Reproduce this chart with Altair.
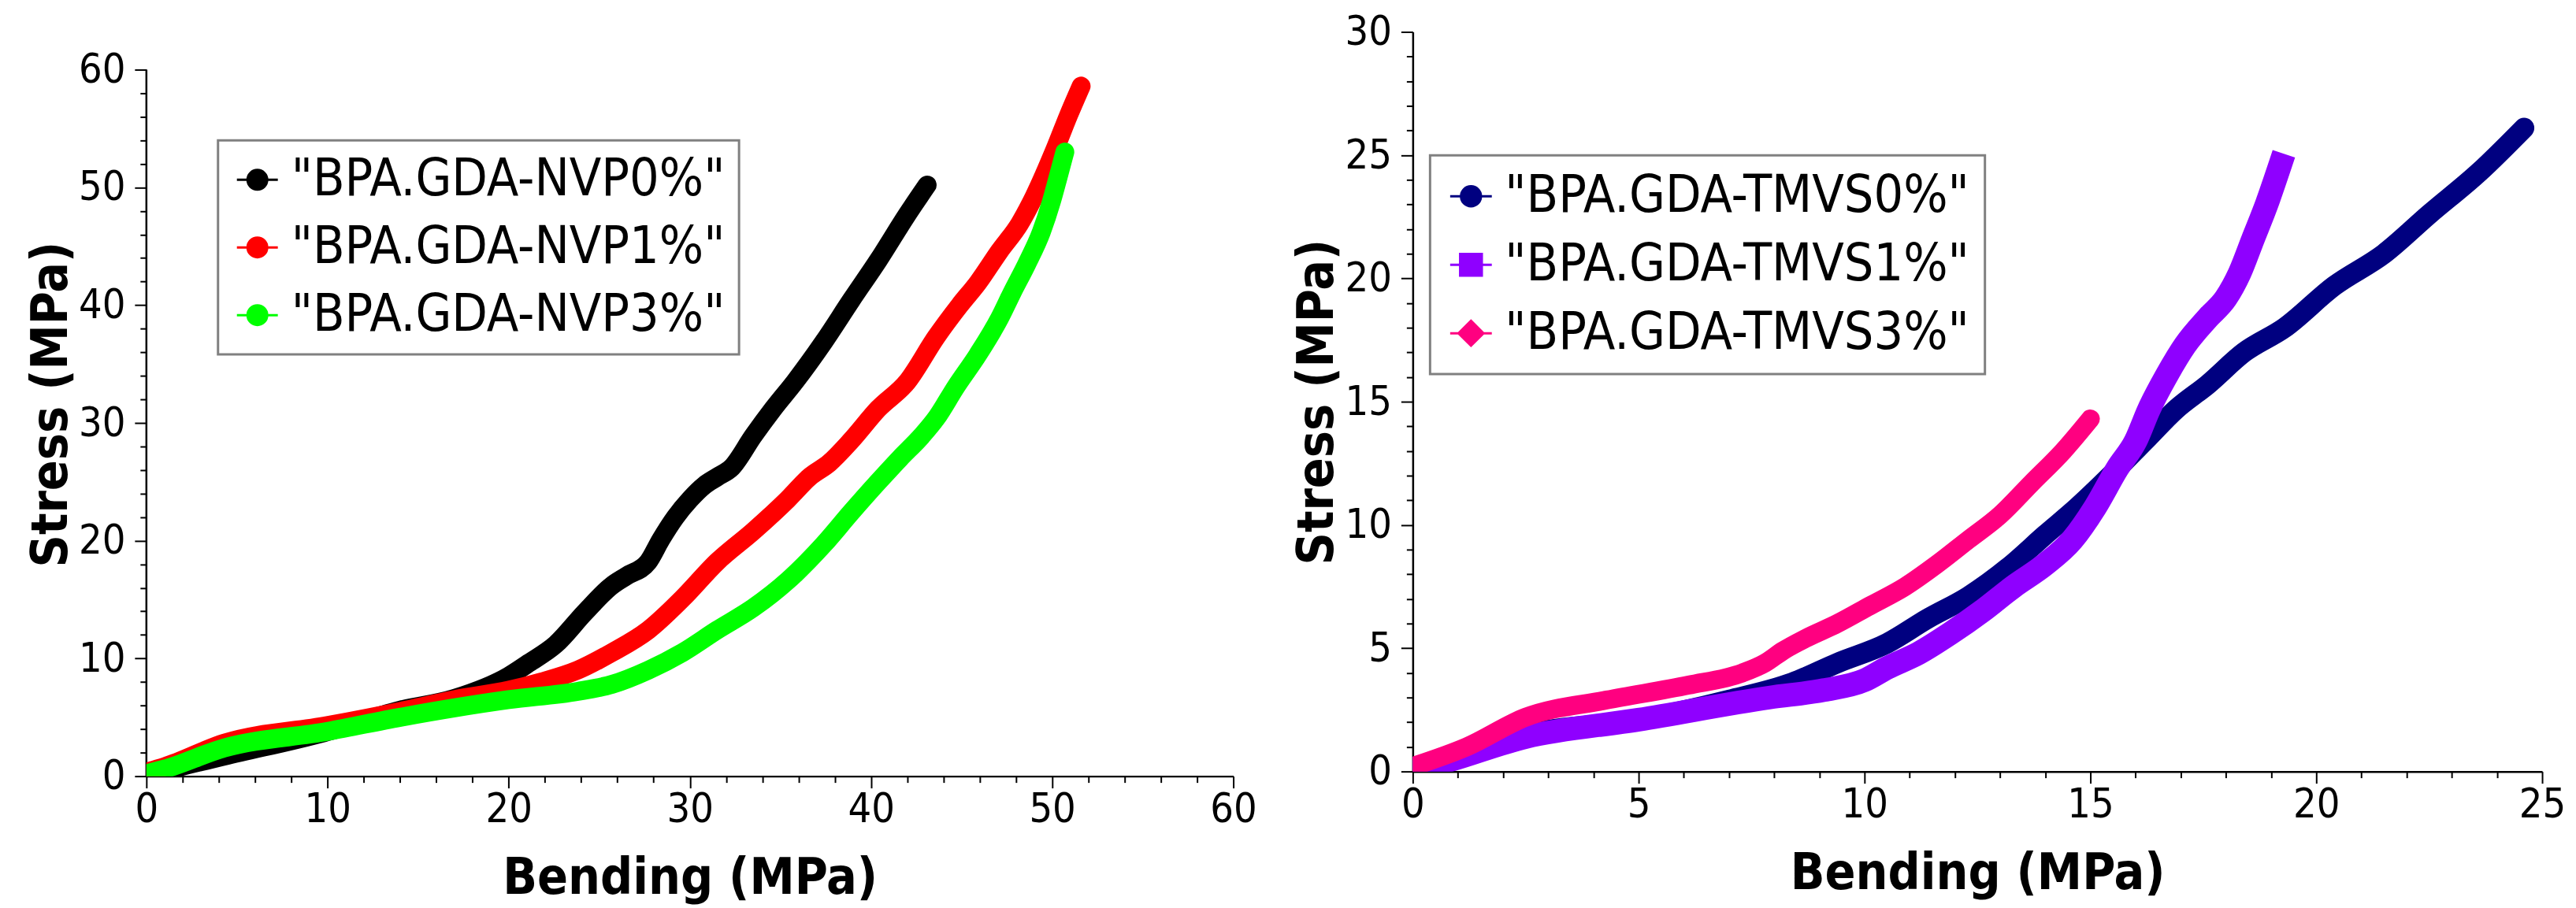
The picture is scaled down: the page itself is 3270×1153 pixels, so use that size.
import altair as alt
import pandas as pd

FONT = "DejaVu Sans Condensed, Liberation Sans Narrow, DejaVu Sans"

# ---------------- left panel data ----------------
nvp_names = ['"BPA.GDA-NVP0%"', '"BPA.GDA-NVP1%"', '"BPA.GDA-NVP3%"']
nvp_colors = ["#000000", "#ff0000", "#00ff00"]

nvp0_x = [0, 1.0, 4.3, 9.8, 14, 17, 20, 21.1, 22.6, 24.2, 25.7, 26.5, 27.7, 28.4, 29.2, 30.0,
          30.8, 31.5, 32.3, 33.5, 34.6, 35.8, 37.4, 38.9, 40.4, 42.0, 43.1]
nvp0_y = [0, 0.45, 1.7, 3.7, 5.6, 6.6, 8.5, 9.6, 11.2, 13.9, 16.2, 17.0, 18.2, 20.1, 22.0, 23.5,
          24.7, 25.4, 26.2, 28.9, 31.2, 33.5, 36.9, 40.4, 43.8, 47.7, 50.2]

nvp1_x = [0, 1.0, 4.3, 10, 14, 17, 20, 21.8, 23.8, 25.7, 27.7, 29.6, 31.5, 33.5, 35.4, 36.6,
          37.7, 38.9, 40.4, 42.0, 43.6, 44.9, 45.9, 47.1, 48.2, 49.0, 50.2, 50.9, 51.6]
nvp1_y = [0.35, 0.8, 2.8, 4.3, 5.5, 6.5, 7.3, 8.0, 9.0, 10.5, 12.4, 15.1, 18.2, 20.8, 23.5, 25.4,
          26.6, 28.5, 31.2, 33.5, 37.3, 40.0, 41.9, 44.6, 46.9, 49.2, 53.4, 56.1, 58.6]

nvp3_x = [0, 1.0, 4.3, 10, 14, 17, 20, 23.8, 25.7, 27.7, 29.6, 31.5, 33.5, 35.4, 37.4, 38.9,
          40.4, 41.6, 42.8, 43.6, 44.7, 45.9, 47.1, 47.8, 48.6, 49.4, 49.96, 50.3, 50.7]
nvp3_y = [0.2, 0.6, 2.4, 3.8, 5.0, 5.8, 6.5, 7.2, 7.8, 9.0, 10.5, 12.4, 14.3, 16.6, 19.7, 22.4,
          25.0, 27.0, 28.9, 30.4, 33.1, 35.8, 38.9, 41.1, 43.5, 46.2, 48.8, 50.7, 53.0]

# ---------------- right panel data ----------------
tmvs_names = ['"BPA.GDA-TMVS0%"', '"BPA.GDA-TMVS1%"', '"BPA.GDA-TMVS3%"']
tmvs_colors = ["#000080", "#8f00ff", "#ff0080"]

tmvs0_x = [0, 0.5, 2.5, 5.0, 7.0, 8.4, 9.4, 10.5, 11.4, 12.3, 13.2, 14.0, 14.7, 15.5, 16.2,
           16.9, 17.6, 18.4, 19.3, 20.4, 21.5, 22.5, 23.6, 24.6]
tmvs0_y = [0, 0.25, 1.5, 2.1, 2.9, 3.6, 4.4, 5.2, 6.2, 7.1, 8.3, 9.6, 10.7, 12.1, 13.4,
           14.7, 15.7, 17.0, 18.0, 19.7, 21.0, 22.6, 24.3, 26.1]

tmvs1_x = [0, 0.5, 2.5, 5.0, 7.9, 9.1, 10.0, 10.5, 11.2, 11.9, 12.6, 13.3, 14.0, 14.6, 15.1,
           15.6, 16.0, 16.3, 16.7, 17.1, 17.6, 18.0, 18.3, 18.6, 18.9, 19.2]
tmvs1_y = [0.1, 0.3, 1.4, 2.1, 3.0, 3.3, 3.7, 4.2, 4.8, 5.6, 6.5, 7.5, 8.4, 9.4, 10.7,
           12.3, 13.4, 14.7, 16.1, 17.3, 18.4, 19.2, 20.2, 21.6, 23.0, 24.6]

tmvs3_x = [0, 1.2, 2.5, 4.3, 6.1, 7.3, 7.8, 8.2, 8.7, 9.4, 10.1, 10.9, 11.6, 12.3, 13.0,
           13.7, 14.4, 15.0]
tmvs3_y = [0.2, 1.0, 2.2, 2.9, 3.5, 4.0, 4.4, 4.9, 5.4, 6.0, 6.7, 7.5, 8.4, 9.4, 10.4,
           11.7, 13.0, 14.3]


def frame(names, xs, ys):
    rows = []
    for name, xv, yv in zip(names, xs, ys):
        for i, (a, b) in enumerate(zip(xv, yv)):
            rows.append({"series": name, "bend": a, "stress": b, "idx": i})
    return pd.DataFrame(rows)


df_left = frame(nvp_names, [nvp0_x, nvp1_x, nvp3_x], [nvp0_y, nvp1_y, nvp3_y])
df_right = frame(tmvs_names, [tmvs0_x, tmvs1_x, tmvs3_x], [tmvs0_y, tmvs1_y, tmvs3_y])


# ---------------- legend symbol paths ----------------
def fmt(v):
    return f"{v:.3f}"


LINE = "M-1,0L1,0"


def circ(rs):
    return "".join(
        f"M{fmt(-r)},0A{fmt(r)},{fmt(r)} 0 1,0 {fmt(r)},0A{fmt(r)},{fmt(r)} 0 1,0 {fmt(-r)},0Z" for r in rs)


def sq(ss):
    return "".join(f"M{fmt(-s)},{fmt(-s)}L{fmt(s)},{fmt(-s)}L{fmt(s)},{fmt(s)}L{fmt(-s)},{fmt(s)}Z" for s in ss)


def dia(ds):
    return "".join(f"M0,{fmt(-d)}L{fmt(d)},0L0,{fmt(d)}L{fmt(-d)},0Z" for d in ds)


circle_path = LINE + circ([0.48, 0.38, 0.28, 0.18, 0.08])
square_path = LINE + sq([0.52, 0.42, 0.32, 0.22, 0.12, 0.03])
diamond_path = LINE + dia([0.6, 0.48, 0.36, 0.24, 0.12, 0.03])


def major_minor(step):
    return {"condition": {"test": f"datum.value % {step} === 0", "value": 15}, "value": 8}


def make_axis(vals, step, title, label_pad, title_pad, domain=True):
    return alt.Axis(
        values=vals,
        labelExpr=f"datum.value % {step} === 0 ? datum.label : ''",
        tickSize=major_minor(step),
        labelOverlap=False,
        labelFlush=False,
        labelPadding=label_pad,
        title=title,
        titlePadding=title_pad,
        format="d",
        grid=False,
        domain=domain,
    )


def panel(df, names, colors, shapes, xmax, ymax, ytop, xstep, ystep, widths, caps,
          width, height, legx, legy, rowpad, pad, symsize, ydomain_line):
    cscale = alt.Scale(domain=names, range=colors)
    sscale = alt.Scale(domain=names, range=shapes)
    leg = alt.Legend(
        orient="none", legendX=legx, legendY=legy, title=None,
        symbolSize=symsize, symbolStrokeWidth=3, symbolOpacity=1,
        labelFont=FONT, labelFontSize=66, labelColor="black", labelLimit=3000,
        labelOffset=10, padding=pad, rowPadding=rowpad,
        strokeColor="#808080", fillColor="white",
    )
    xenc = alt.X("bend:Q", scale=alt.Scale(domain=[0, xmax], nice=False),
                 axis=make_axis(list(range(0, xmax + 1, xstep)), xstep * 5,
                                "Bending (MPa)", 2, 30))
    yenc = alt.Y("stress:Q", scale=alt.Scale(domain=[0, ytop], nice=False),
                 axis=make_axis(list(range(0, ymax + 1, ystep)), ystep * 5,
                                "Stress (MPa)", 12, 2, domain=not ydomain_line))
    legend_layer = alt.Chart(df).transform_filter("false").mark_point(
        filled=False, opacity=1, strokeWidth=3
    ).encode(
        x=xenc, y=yenc,
        color=alt.Color("series:N", scale=cscale, legend=leg),
        shape=alt.Shape("series:N", scale=sscale, legend=leg),
    )
    layers = [legend_layer]
    if ydomain_line:
        # y axis line drawn from 0 to the top tick value through the scales
        axis_df = pd.DataFrame({"bend": [0], "stress": [0], "stress_top": [ymax]})
        layers.append(
            alt.Chart(axis_df).mark_rule(color="black", strokeWidth=2.5).encode(
                x=xenc, y=yenc, y2="stress_top:Q"
            )
        )
    for name, w, cap in zip(names, widths, caps):
        layers.append(
            alt.Chart(df).transform_filter(alt.datum.series == name).mark_line(
                strokeWidth=w, strokeCap=cap, strokeJoin="round",
                interpolate="monotone", clip=True
            ).encode(
                x=xenc, y=yenc,
                color=alt.Color("series:N", scale=cscale, legend=None),
                order="idx:Q",
            )
        )
    return alt.layer(*layers).properties(width=width, height=height)


# left plot: same top as right plot, 60 placed 48 px below the top
left = panel(df_left, nvp_names, nvp_colors, [circle_path] * 3, 60, 60, 60 * 946 / 898, 2, 2,
             [24, 24, 24], ["round", "round", "round"], 1381, 946, 91, 138, 20, 17, 2704, True)

right = panel(df_right, tmvs_names, tmvs_colors, [circle_path, square_path, diamond_path],
              25, 30, 30, 1, 1, [26, 30, 24], ["round", "square", "round"], 1435, 940, 22, 157,
              21, 19, 2800, False)

chart = alt.hconcat(left, right, spacing=45).resolve_scale(
    color="independent", shape="independent", x="independent", y="independent"
).properties(
    padding={"left": 25, "top": 6, "right": 5, "bottom": 5}
).configure_view(stroke=None).configure_axis(
    labelFont=FONT, labelFontSize=52, labelColor="black",
    titleFont=FONT, titleFontSize=64, titleFontWeight="bold", titleColor="black",
    domainColor="black", domainWidth=2.5, tickColor="black", tickWidth=2,
).configure_legend(strokeWidth=3)

chart.save("out.html", embed_options={"renderer": "svg", "actions": False})
